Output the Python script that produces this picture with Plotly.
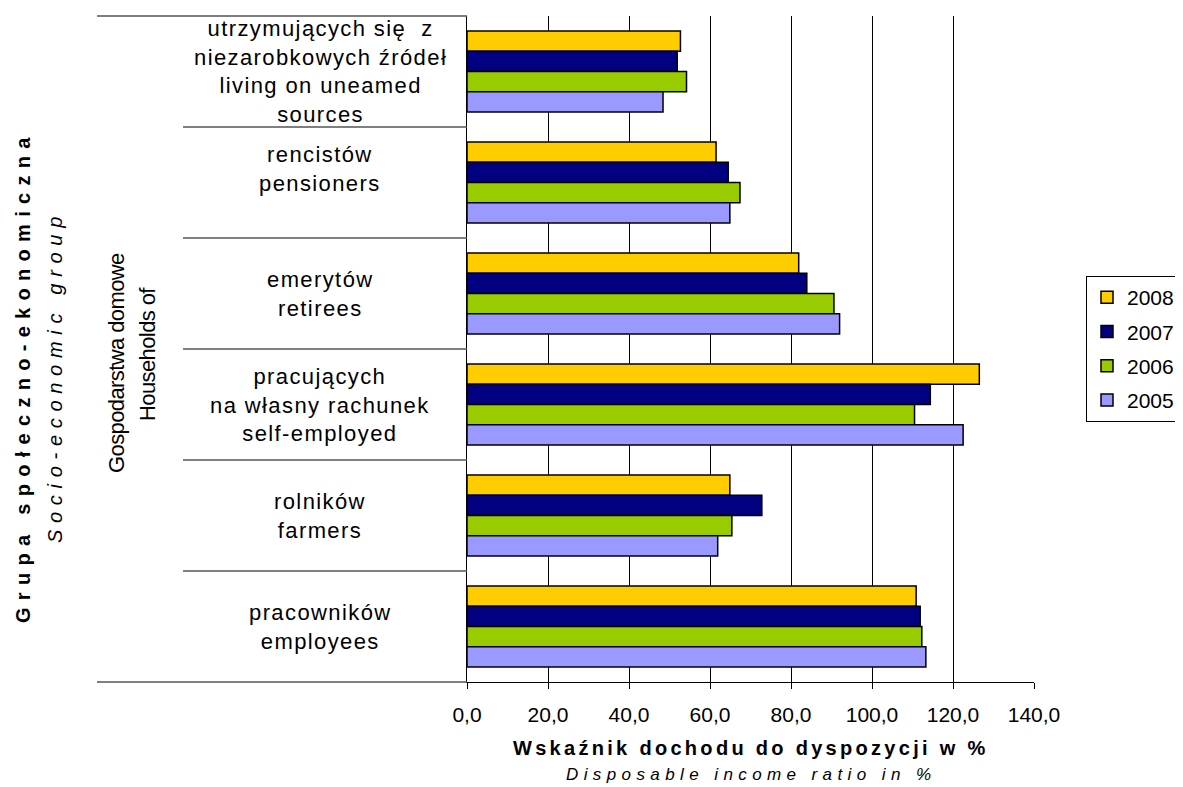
import plotly.graph_objects as go

# ---- data ----
categories = [
    "utrzymujących się  z<br>niezarobkowych źródeł<br>living on uneamed<br>sources",
    "rencistów<br>pensioners",
    "emerytów<br>retirees",
    "pracujących<br>na własny rachunek<br>self-employed",
    "rolników<br>farmers",
    "pracowników<br>employees",
]
years = ["2008", "2007", "2006", "2005"]
v2008 = [52.7, 61.5, 81.9, 126.5, 64.9, 110.9]
v2007 = [51.9, 64.5, 83.9, 114.4, 72.8, 111.9]
v2006 = [54.2, 67.4, 90.6, 110.5, 65.4, 112.3]
v2005 = [48.4, 64.9, 92.0, 122.5, 61.9, 113.3]
x_tickvals = [0, 20, 40, 60, 80, 100, 120, 140]
x_ticktext = ["0,0", "20,0", "40,0", "60,0", "80,0", "100,0", "120,0", "140,0"]

title_pl = "Grupa społeczno-ekonomiczna"
title_en = "Socio-economic group"
outer_pl = "Gospodarstwa domowe"
outer_en = "Households of"
xtitle_pl = "Wskaźnik dochodu do dyspozycji w %"
xtitle_en = "Disposable income ratio in %"

# ---- styles ----
colors = {"2008": "#FFCC00", "2007": "#000080", "2006": "#99CC00", "2005": "#9999FF"}
series = {"2008": v2008, "2007": v2007, "2006": v2006, "2005": v2005}
FONT = "Liberation Sans, Arial, sans-serif"
label_yshift = {1: 14}


def ls(text, px):
    return "<br>".join(
        f"<span style='letter-spacing:{px}px'>{line}</span>" for line in text.split("<br>")
    )


fig = go.Figure()
for y in years:
    fig.add_trace(go.Bar(
        x=series[y], y=categories, orientation="h", name=y, legendgroup=y,
        marker=dict(color=colors[y], line=dict(color="black", width=1.5)),
    ))

annotations = []
for i, c in enumerate(categories):
    annotations.append(dict(
        x=-0.259, xref="paper", y=c, yref="y", text=ls(c, 1.4), showarrow=False,
        xanchor="center", yanchor="middle", align="center",
        font=dict(family=FONT, size=22, color="black"), yshift=label_yshift.get(i, 0),
    ))

annotations += [
    dict(x=-0.783, xref="paper", y=0.458, yref="paper", text=ls(f"<b>{title_pl}</b>", 7.3),
         textangle=-90, showarrow=False, xanchor="center", yanchor="middle",
         font=dict(family=FONT, size=20, color="black")),
    dict(x=-0.7266, xref="paper", y=0.458, yref="paper", text=ls(f"<i>{title_en}</i>", 6.7),
         textangle=-90, showarrow=False, xanchor="center", yanchor="middle",
         font=dict(family=FONT, size=20, color="black")),
    dict(x=-0.6173, xref="paper", y=0.479, yref="paper", text=ls(outer_pl, -0.6),
         textangle=-90, showarrow=False, xanchor="center", yanchor="middle",
         font=dict(family=FONT, size=22, color="black")),
    dict(x=-0.5626, xref="paper", y=0.4925, yref="paper", text=ls(outer_en, -0.6),
         textangle=-90, showarrow=False, xanchor="center", yanchor="middle",
         font=dict(family=FONT, size=22, color="black")),
    dict(x=0.5, xref="paper", y=-0.099, yref="paper", text=ls(f"<b>{xtitle_pl}</b>", 3.3),
         showarrow=False, xanchor="center", yanchor="middle",
         font=dict(family=FONT, size=20, color="black")),
    dict(x=0.5, xref="paper", y=-0.1396, yref="paper", text=ls(f"<i>{xtitle_en}</i>", 5.4),
         showarrow=False, xanchor="center", yanchor="middle",
         font=dict(family=FONT, size=17, color="black")),
]

n = len(categories)
shapes = []
for i in range(n - 1):
    shapes.append(dict(type="line", xref="paper", yref="y", x0=-0.5009, x1=0,
                       y0=i + 0.5, y1=i + 0.5, line=dict(color="#555", width=1.5)))
for yy in (0, 1):
    shapes.append(dict(type="line", xref="paper", yref="paper", x0=-0.6526, x1=0,
                       y0=yy, y1=yy, line=dict(color="#555", width=1.5)))

# the page body adds an 8px margin, so the figure is 8px smaller and margins compensate
fig.update_layout(
    width=1175, height=779,
    margin=dict(l=459, r=149, t=8, b=105, autoexpand=False),
    paper_bgcolor="white", plot_bgcolor="white",
    barmode="group", bargap=0.27, bargroupgap=0,
    font=dict(family=FONT, color="black"),
    showlegend=True,
    legend=dict(x=1.2575, xanchor="right", y=0.5, yanchor="middle",
                bordercolor="black", borderwidth=1, font=dict(size=21, family=FONT),
                tracegroupgap=4, itemwidth=30, traceorder="grouped"),
    annotations=annotations,
    shapes=shapes,
)
fig.update_xaxes(range=[0, 140], tickvals=x_tickvals, ticktext=x_ticktext,
                 showgrid=True, gridcolor="black", gridwidth=1,
                 showline=True, linecolor="black", linewidth=1,
                 ticks="outside", ticklen=6, tickcolor="black", ticklabelstandoff=8,
                 tickfont=dict(size=21, family=FONT, color="black"), zeroline=False)
fig.update_yaxes(range=[n - 0.5, -0.5], showticklabels=False, showgrid=False,
                 showline=True, linecolor="black", linewidth=1, ticks="", zeroline=False)

fig.write_html("out.html")
